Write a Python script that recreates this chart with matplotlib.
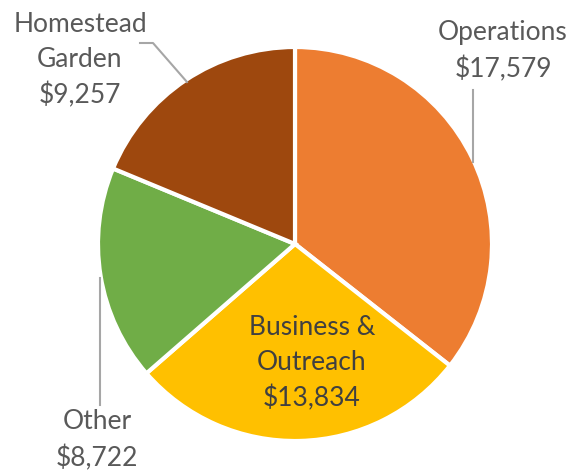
import matplotlib
matplotlib.use("Agg")
import matplotlib.pyplot as plt

# datos del grafico
categories = ["Operations", "Business &\nOutreach", "Other", "Homestead\nGarden"]
values = [17579, 13834, 8722, 9257]
colors = ["#ED7D31", "#FFC000", "#70AD47", "#9E480E"]

W, H = 576, 473

fig = plt.figure(figsize=(W / 100, H / 100), dpi=100)
ax = fig.add_axes([0, 0, 1, 1])
ax.axis("off")

# pie en coordenadas de pixel (y invertida -> counterclock=True gira en sentido horario)
ax.pie(values, colors=colors, startangle=-90, counterclock=True,
       center=(295, 244), radius=197,
       wedgeprops=dict(edgecolor="white", linewidth=3))
ax.set_xlim(0, W)
ax.set_ylim(H, 0)
ax.set_aspect("auto")

labels = [c + "\n$" + format(v, ",") for c, v in zip(categories, values)]
pos = [(503, 51), (312, 363), (97, 440), (80, 60)]
txtcol = ["#595959", "#404040", "#595959", "#595959"]

for lab, (x, y), c in zip(labels, pos, txtcol):
    ax.text(x, y, lab, ha="center", va="center", fontsize=19,
            family=["Lato", "DejaVu Sans"], color=c, linespacing=1.5)

# lineas guia
lc = "#A6A6A6"
ax.plot([140, 153, 187], [43, 43, 82], color=lc, lw=1.5)
ax.plot([473, 473], [90, 162], color=lc, lw=1.5)
ax.plot([100, 100], [278, 405], color=lc, lw=1.5)

fig.savefig("out.png", dpi=100)
